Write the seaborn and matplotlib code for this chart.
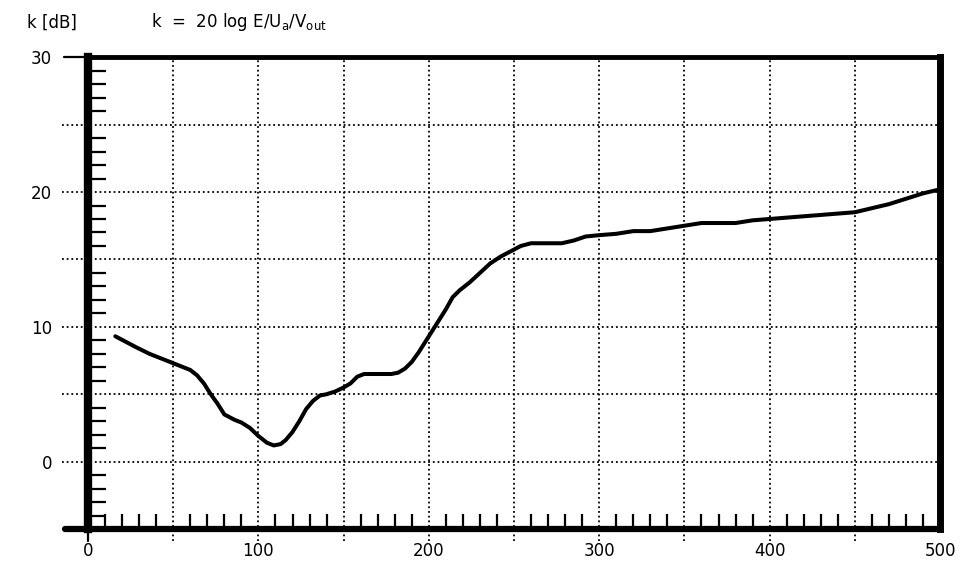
import numpy as np
import pandas as pd
import seaborn as sns
import matplotlib.pyplot as plt
from matplotlib.ticker import FixedLocator

# curve (x, k in dB)
freq = [16, 22, 28, 36, 44, 50, 56, 60, 64, 68, 72, 76, 80, 86, 90, 95, 100,
        105, 109, 113, 116, 120, 124, 128, 132, 136, 140, 145, 150, 154, 158,
        162, 170, 178, 182, 186, 190, 194, 198, 202, 206, 210, 214, 218, 224,
        230, 236, 242, 248, 254, 260, 270, 278, 285, 292, 300, 310, 320, 330,
        340, 350, 360, 370, 380, 390, 400, 410, 420, 430, 440, 450, 460, 470,
        480, 490, 500]
k_db = [9.3, 8.9, 8.5, 8.0, 7.6, 7.3, 7.0, 6.8, 6.4, 5.8, 5.0, 4.3, 3.5, 3.1,
        2.9, 2.5, 1.9, 1.4, 1.2, 1.3, 1.6, 2.2, 3.0, 3.9, 4.5, 4.9, 5.0, 5.2,
        5.5, 5.8, 6.3, 6.5, 6.5, 6.5, 6.6, 6.9, 7.4, 8.1, 8.9, 9.7, 10.5, 11.3,
        12.2, 12.7, 13.3, 14.0, 14.7, 15.2, 15.6, 16.0, 16.2, 16.2, 16.2, 16.4,
        16.7, 16.8, 16.9, 17.1, 17.1, 17.3, 17.5, 17.7, 17.7, 17.7, 17.9, 18.0,
        18.1, 18.2, 18.3, 18.4, 18.5, 18.8, 19.1, 19.5, 19.9, 20.2]

x_ticks = [0, 100, 200, 300, 400, 500]
y_ticks = [0, 10, 20, 30]
x_grid = [0, 50, 100, 150, 200, 250, 300, 350, 400, 450, 500]
y_grid = [-5, 0, 5, 10, 15, 20, 25, 30]

sns.set_style("white")
plt.rcParams['font.family'] = ['DejaVu Sans']
plt.rcParams['text.color'] = 'black'

df = pd.DataFrame({"x": freq, "k": k_db})

fig = plt.figure(figsize=(9.6, 5.61), dpi=100)
ax = fig.add_axes([0.0917, 0.057, 0.8875, 0.841])

dots = (0, (1, 1.6))
# dotted grid, horizontal lines run out past the left spine
for yv in y_grid[1:-1]:
    ax.plot([-0.03, 1], [yv, yv], transform=ax.get_yaxis_transform(),
            color='black', lw=1.3, ls=dots, clip_on=False, zorder=1)
for xv in x_grid[1:-1]:
    ax.plot([xv, xv], [-0.025, 1], transform=ax.get_xaxis_transform(),
            color='black', lw=1.3, ls=dots, clip_on=False, zorder=1)

sns.lineplot(data=df, x="x", y="k", ax=ax, color='black', lw=2.9, zorder=3)

ax.set_xlim(0, 500)
ax.set_ylim(-5, 30)
ax.set_xlabel("")
ax.set_ylabel("")

ax.xaxis.set_major_locator(FixedLocator(x_ticks))
ax.yaxis.set_major_locator(FixedLocator(y_ticks))
ax.xaxis.set_minor_locator(FixedLocator([v for v in range(10, 500, 10) if v % 50]))
ax.yaxis.set_minor_locator(FixedLocator([v for v in range(-4, 30) if v % 5]))
ax.tick_params(which='both', bottom=True, left=True, top=False, right=False,
               color='black', labelcolor='black')
ax.tick_params(which='major', length=0, labelsize=12)
ax.tick_params(axis='x', which='major', pad=9)
ax.tick_params(axis='y', which='major', pad=26)
ax.tick_params(which='minor', direction='in', width=1.6)
ax.tick_params(axis='x', which='minor', length=11)
ax.tick_params(axis='y', which='minor', length=13)

# heavy frame
widths = {'left': 6, 'bottom': 4.5, 'right': 5, 'top': 3.5}
for side, w in widths.items():
    ax.spines[side].set_visible(True)
    ax.spines[side].set_color('black')
    ax.spines[side].set_linewidth(w)

# extra ticks: 30 on the left, 0 below, bottom line running left
ax.plot([-0.028, 0], [30, 30], transform=ax.get_yaxis_transform(),
        color='black', lw=1.6, clip_on=False)
ax.plot([-0.027, 0], [-5, -5], transform=ax.get_yaxis_transform(),
        color='black', lw=4.5, clip_on=False)
ax.plot([0, 0], [-0.025, 0], transform=ax.get_xaxis_transform(),
        color='black', lw=1.6, clip_on=False)

fig.text(0.028, 0.96, "k [dB]", fontsize=12, va='center')
fig.text(0.157, 0.96,
         r"k  =  20 log E/U$_\mathregular{a}$/V$_\mathregular{out}$",
         fontsize=12, va='center')

plt.savefig("out.png", dpi=100)
plt.close()
